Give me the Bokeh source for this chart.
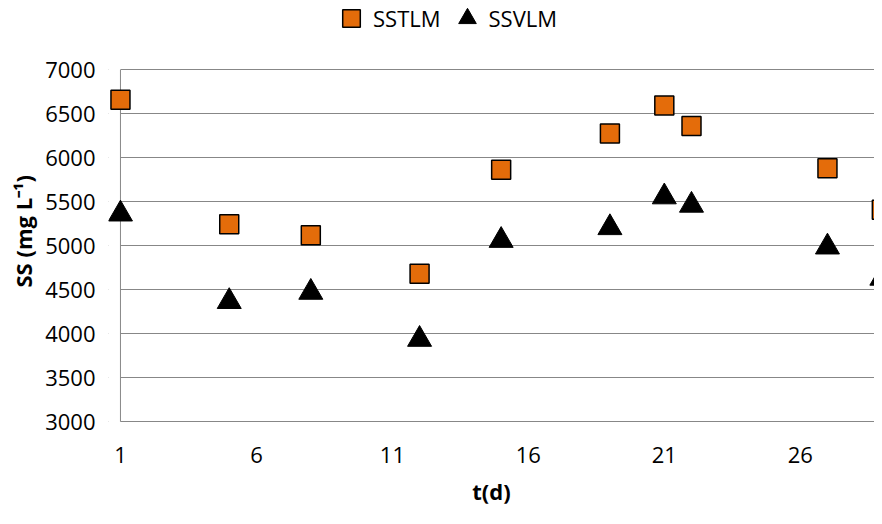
from bokeh.plotting import figure
from bokeh.models import (Legend, LegendItem, BoxAnnotation, FixedTicker,
                          Range1d, Title)
from bokeh.embed import file_html
from bokeh.resources import INLINE

# ---- data ----
days = [1, 5, 8, 12, 15, 19, 21, 22, 27, 29]
sstlm = [6660, 5245, 5120, 4680, 5865, 6275, 6595, 6360, 5880, 5410]
ssvlm = [5360, 4365, 4470, 3935, 5060, 5205, 5555, 5460, 4985, 4630]
x_ticks = [1, 6, 11, 16, 21, 26]
y_ticks = [3000, 3500, 4000, 4500, 5000, 5500, 6000, 6500, 7000]
series_names = ["SSTLM", "SSVLM"]
x_title = "t(d)"
y_title = "SS (mg L\u207b\u00b9)"

FONT = "Open Sans"
GRID = "#878787"
ORANGE = "#E46C0A"

# frame reaches the top of the canvas so the legend can sit inside it
p = figure(width=874, height=508, output_backend="svg", toolbar_location=None,
           x_range=Range1d(0.56, 28.73), y_range=Range1d(2990, 7788),
           min_border_left=105, min_border_right=0, min_border_top=0,
           min_border_bottom=76)
p.outline_line_color = None
p.background_fill_color = "white"
p.border_fill_color = "white"

# grid
p.xgrid.visible = False
p.ygrid.ticker = FixedTicker(ticks=y_ticks)
p.ygrid.grid_line_color = GRID
p.ygrid.grid_line_width = 1

# hide grid stubs left of the first day
cover = BoxAnnotation(right=x_ticks[0], fill_color="white", fill_alpha=1.0,
                      line_color=None, level="underlay")
p.add_layout(cover)

# left spine at the first day, spanning the value axis
p.segment(x0=[x_ticks[0]], y0=[y_ticks[0]], x1=[x_ticks[0]], y1=[y_ticks[-1]],
          line_color=GRID, line_width=1)

# axes
xa = p.xaxis[0]
xa.ticker = FixedTicker(ticks=x_ticks)
xa.axis_line_color = None
xa.major_tick_line_color = None
xa.minor_tick_line_color = None
xa.major_tick_out = 0
xa.major_label_standoff = 24
xa.major_label_text_font = FONT
xa.major_label_text_font_size = "22px"
xa.major_label_text_color = "black"
xa.axis_label = x_title
xa.axis_label_text_font = FONT
xa.axis_label_text_font_size = "22px"
xa.axis_label_text_font_style = "bold"
xa.axis_label_text_color = "black"
xa.axis_label_standoff = 10

ya = p.yaxis[0]
ya.ticker = FixedTicker(ticks=y_ticks)
ya.axis_line_color = None
ya.major_tick_line_color = None
ya.minor_tick_line_color = None
ya.major_tick_out = 0
ya.major_label_standoff = 13
ya.major_label_text_font = FONT
ya.major_label_text_font_size = "22px"
ya.major_label_text_color = "black"

# y-axis title as a left-side title so it can be shifted along the axis
ytitle = Title(text=y_title, align="left", offset=135, standoff=10,
               text_font=FONT, text_font_size="22px", text_font_style="bold",
               text_color="black")
p.add_layout(ytitle, "left")

# series
r1 = p.scatter(days, sstlm, marker="square", size=19, fill_color=ORANGE,
               line_color="black", line_width=1.5)
r2 = p.scatter(days, ssvlm, marker="triangle", size=24, fill_color="black",
               line_color="black", line_width=1)

legend = Legend(items=[LegendItem(label=series_names[0], renderers=[r1]),
                       LegendItem(label=series_names[1], renderers=[r2])],
                orientation="horizontal", location=(221, 382),
                glyph_width=44, glyph_height=44, label_standoff=0, spacing=4,
                padding=0, margin=0, border_line_color=None,
                background_fill_alpha=0, label_text_font=FONT,
                label_text_font_size="22px", label_text_color="black")
p.add_layout(legend, "center")

open("out.html", "w").write(file_html(p, INLINE))
